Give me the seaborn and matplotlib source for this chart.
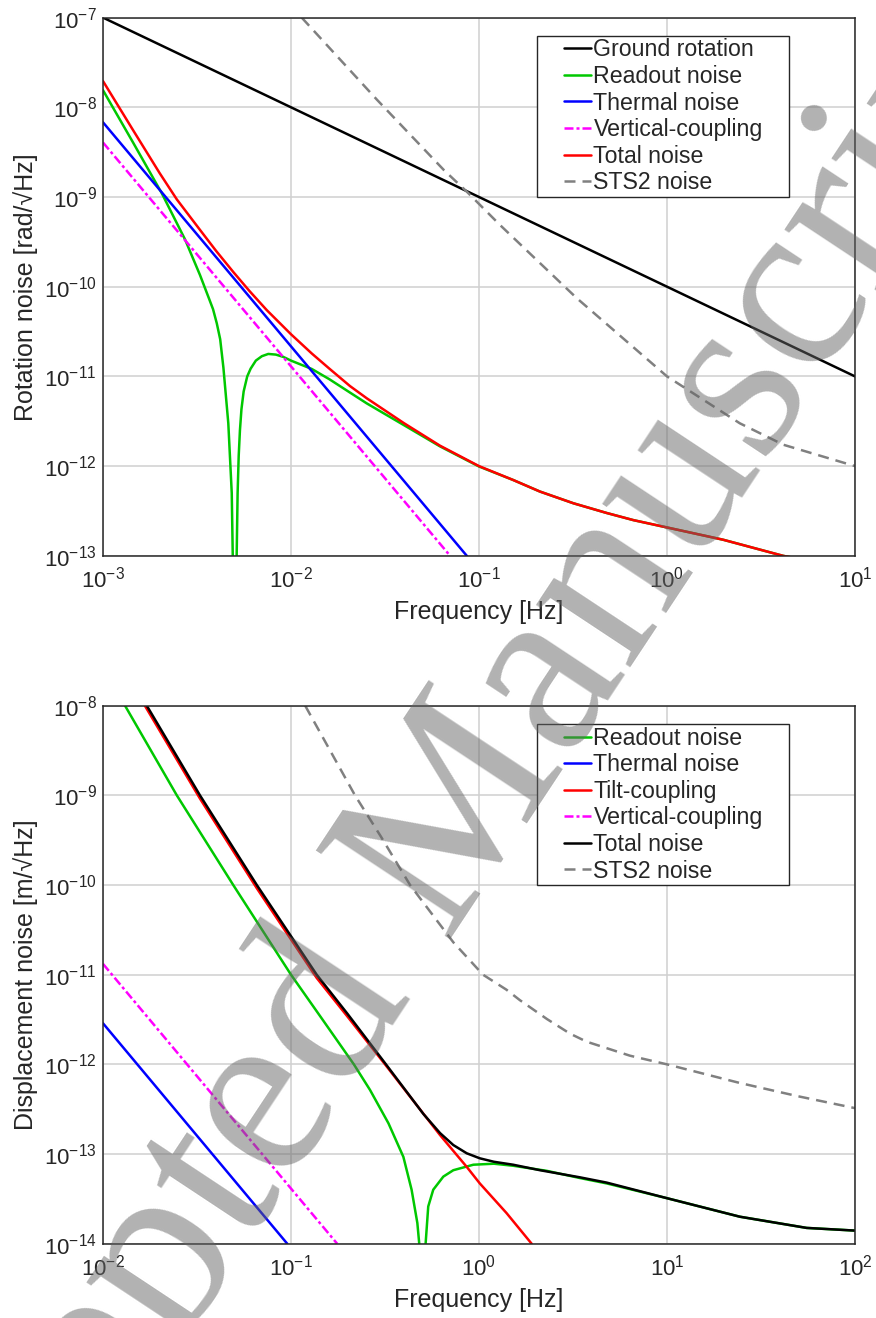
import matplotlib
matplotlib.use("Agg")
import matplotlib.pyplot as plt
from matplotlib.lines import Line2D
from matplotlib.legend_handler import HandlerLine2D
from matplotlib.path import Path
from matplotlib.ticker import FixedLocator, FixedFormatter, NullLocator
import seaborn as sns

# ---------------- data: top panel (rotation noise) ----------------
top_ground_f = [1e-3, 1e1]
top_ground = [1e-7, 1e-11]

top_readout_f = [1.0e-3, 1.45e-3, 2.05e-3, 2.73e-3, 3.28e-3, 3.67e-3, 3.85e-3, 4.03e-3,
                 4.2e-3, 4.37e-3, 4.64e-3, 4.84e-3, 4.9e-3, 5.02e-3, 5.14e-3, 5.2e-3,
                 5.27e-3, 5.35e-3, 5.45e-3, 5.6e-3, 5.85e-3, 6.1e-3, 6.5e-3, 7.0e-3,
                 7.57e-3, 8.3e-3, 9.1e-3, 1.0e-2, 1.29e-2, 1.6e-2, 2.06e-2, 2.53e-2,
                 4.0e-2, 6.2e-2, 0.1, 0.152, 0.211, 0.318, 0.478, 0.662, 1.0, 1.99,
                 4.14, 10.0]
top_readout = [1.55e-8, 4.0e-9, 1.11e-9, 3.37e-10, 1.35e-10, 7.3e-11, 5.6e-11, 3.9e-11,
               2.6e-11, 1.25e-11, 3.0e-12, 5.0e-13, 1.0e-13, 1e-15, 1.0e-13, 5.0e-13,
               1.3e-12, 2.5e-12, 4.3e-12, 6.8e-12, 1.0e-11, 1.22e-11, 1.5e-11, 1.68e-11,
               1.78e-11, 1.75e-11, 1.65e-11, 1.5e-11, 1.21e-11, 9.3e-12, 6.6e-12, 5.0e-12,
               2.85e-12, 1.66e-12, 9.9e-13, 7.0e-13, 5.2e-13, 3.85e-13, 3.0e-13, 2.5e-13,
               2.07e-13, 1.51e-13, 1.0e-13, 7.0e-14]

top_thermal_f = [1e-3, 0.0861]
top_thermal = [6.8e-9, 1.0e-13]

top_vertical_f = [1e-3, 0.0702]
top_vertical = [4.05e-9, 1.0e-13]

top_total_f = [1.0e-3, 1.45e-3, 2.0e-3, 2.47e-3, 3.28e-3, 4.0e-3, 4.93e-3, 6.0e-3, 7.42e-3,
               1.0e-2, 1.29e-2, 1.6e-2, 2.06e-2, 2.53e-2, 4.0e-2, 6.2e-2, 0.1, 0.152,
               0.211, 0.318, 0.478, 0.662, 1.0, 1.99, 4.14, 10.0]
top_total = [1.96e-8, 5.5e-9, 1.85e-9, 9.4e-10, 4.3e-10, 2.5e-10, 1.46e-10, 9.0e-11,
             5.5e-11, 2.95e-11, 1.8e-11, 1.22e-11, 7.8e-12, 5.7e-12, 3.0e-12, 1.69e-12,
             1.0e-12, 7.0e-13, 5.2e-13, 3.85e-13, 3.0e-13, 2.5e-13, 2.07e-13, 1.51e-13,
             1.0e-13, 7.0e-14]

top_sts2_f = [0.0114, 0.0286, 0.065, 0.086, 0.129, 0.33, 1.0, 2.44, 4.16, 10.0]
top_sts2 = [1.0e-7, 1.22e-8, 2.0e-9, 1.15e-9, 4.9e-10, 7.5e-11, 1.0e-11, 3.0e-12,
            1.73e-12, 1.0e-12]

top_labels = ["Ground rotation", "Readout noise", "Thermal noise",
              "Vertical-coupling", "Total noise", "STS2 noise"]

# ---------------- data: bottom panel (displacement noise) ----------------
bot_readout_f = [0.0131, 0.0247, 0.0493, 0.1, 0.145, 0.216, 0.263, 0.330, 0.396, 0.438,
                 0.470, 0.481, 0.5, 0.52, 0.537, 0.571, 0.646, 0.730, 0.933, 1.2, 1.52,
                 2.29, 3.44, 4.78, 10.1, 24.4, 55.3, 100.0]
bot_readout = [1.0e-8, 1.0e-9, 1.0e-10, 1.0e-11, 3.3e-12, 1.0e-12, 5.2e-13, 2.2e-13,
               9.3e-14, 4.0e-14, 1.7e-14, 1.0e-14, 1e-16, 1.0e-14, 2.6e-14, 4.0e-14,
               5.6e-14, 6.6e-14, 7.6e-14, 7.8e-14, 7.4e-14, 6.5e-14, 5.4e-14, 4.7e-14,
               3.2e-14, 2.0e-14, 1.5e-14, 1.4e-14]

bot_thermal_f = [0.01, 0.0955]
bot_thermal = [2.87e-12, 1.0e-14]

bot_tilt_f = [0.0167, 0.0328, 0.0658, 0.137, 0.2, 0.32, 0.42, 0.62, 0.86, 1.01, 1.40, 1.905]
bot_tilt = [1.0e-8, 9.2e-10, 9.2e-11, 9.2e-12, 3.4e-12, 9.7e-13, 4.65e-13, 1.63e-13,
            7.2e-14, 4.7e-14, 2.2e-14, 1.0e-14]

bot_vertical_f = [0.01, 0.176]
bot_vertical = [1.32e-11, 1.0e-14]

bot_total_f = [0.0171, 0.0328, 0.0658, 0.137, 0.2, 0.32, 0.42, 0.506, 0.621, 0.73, 0.86,
               1.01, 1.2, 1.52, 2.11, 3.44, 4.78, 10.1, 24.4, 55.3, 100.0]
bot_total = [1.0e-8, 1.0e-9, 1.0e-10, 1.0e-11, 3.65e-12, 1.0e-12, 4.7e-13, 2.8e-13,
             1.71e-13, 1.26e-13, 1.02e-13, 8.96e-14, 8.2e-14, 7.6e-14, 6.6e-14, 5.5e-14,
             4.8e-14, 3.2e-14, 2.0e-14, 1.5e-14, 1.4e-14]

bot_sts2_f = [0.119, 0.219, 0.30, 0.43, 0.73, 1.05, 1.4, 1.65, 2.3, 3.05, 3.74, 6.35,
              10.0, 24.4, 50.0, 100.0]
bot_sts2 = [1.0e-8, 1.0e-9, 3.5e-10, 1.0e-10, 2.3e-11, 1.0e-11, 6.8e-12, 5.2e-12,
            3.2e-12, 2.2e-12, 1.79e-12, 1.25e-12, 1.0e-12, 6.2e-13, 4.4e-13, 3.25e-13]

bot_labels = ["Readout noise", "Thermal noise", "Tilt-coupling",
              "Vertical-coupling", "Total noise", "STS2 noise"]

top_xticks = [1e-3, 1e-2, 1e-1, 1e0, 1e1]
top_xticklabels = [r"$10^{-3}$", r"$10^{-2}$", r"$10^{-1}$", r"$10^{0}$", r"$10^{1}$"]
top_yticks = [1e-13, 1e-12, 1e-11, 1e-10, 1e-9, 1e-8, 1e-7]
top_yticklabels = [r"$10^{-13}$", r"$10^{-12}$", r"$10^{-11}$", r"$10^{-10}$",
                   r"$10^{-9}$", r"$10^{-8}$", r"$10^{-7}$"]
bot_xticks = [1e-2, 1e-1, 1e0, 1e1, 1e2]
bot_xticklabels = [r"$10^{-2}$", r"$10^{-1}$", r"$10^{0}$", r"$10^{1}$", r"$10^{2}$"]
bot_yticks = [1e-14, 1e-13, 1e-12, 1e-11, 1e-10, 1e-9, 1e-8]
bot_yticklabels = [r"$10^{-14}$", r"$10^{-13}$", r"$10^{-12}$", r"$10^{-11}$",
                   r"$10^{-10}$", r"$10^{-9}$", r"$10^{-8}$"]

# ---------------- styling ----------------
sns.set_style("white")
plt.rcParams["font.family"] = ["Liberation Sans", "DejaVu Sans"]
plt.rcParams["mathtext.fontset"] = "custom"
plt.rcParams["mathtext.rm"] = "Liberation Sans"
plt.rcParams["mathtext.it"] = "Liberation Sans:italic"
plt.rcParams["mathtext.bf"] = "Liberation Sans:bold"
plt.rcParams["mathtext.default"] = "regular"

GREEN = "#00C800"
BLUE = "#0000FF"
RED = "#FF0000"
MAGENTA = "#FF00FF"
BLACK = "#000000"
GRAY = "#808080"
LW = 1.8
DASHDOT = (0, (3.6, 1.2, 1.2, 1.2))
DASHED = (0, (4.4, 2.8))
AXCOL = "#262626"

W, H = 876, 1318
fig = plt.figure(figsize=(W / 100, H / 100), dpi=100)
ax1 = fig.add_axes([103 / W, 1 - 555.8 / H, 752 / W, 538.2 / H])
ax2 = fig.add_axes([103 / W, 1 - 1243.7 / H, 752 / W, 538.0 / H])


def draw(ax, f, v, color, ls, label):
    sns.lineplot(x=f, y=v, ax=ax, color=color, linestyle=ls, linewidth=LW,
                 label=label, estimator=None, errorbar=None, sort=False)


def legend_box(x0, y0, width, height, mutation_size):
    padx = 1.05 * mutation_size
    x0 = x0 - padx
    width = width + 2 * padx
    return Path([(x0, y0), (x0 + width, y0), (x0 + width, y0 + height),
                 (x0, y0 + height), (x0, y0)], closed=True)


def style_axes(ax, xlim, ylim, xt, xtl, yt, ytl, ylabel):
    ax.set_xscale("log")
    ax.set_yscale("log")
    ax.set_xlim(*xlim)
    ax.set_ylim(*ylim)
    ax.xaxis.set_major_locator(FixedLocator(xt))
    ax.xaxis.set_major_formatter(FixedFormatter(xtl))
    ax.yaxis.set_major_locator(FixedLocator(yt))
    ax.yaxis.set_major_formatter(FixedFormatter(ytl))
    ax.xaxis.set_minor_locator(NullLocator())
    ax.yaxis.set_minor_locator(NullLocator())
    ax.grid(True, which="major", color="#D0D0D0", linewidth=1.1)
    ax.set_axisbelow(True)
    ax.tick_params(axis="both", which="both", length=0, labelsize=16, labelcolor=AXCOL)
    ax.tick_params(axis="x", pad=8)
    ax.tick_params(axis="y", pad=4.5)
    for s in ax.spines.values():
        s.set_visible(True)
        s.set_color(AXCOL)
        s.set_linewidth(1.1)
    ax.set_xlabel("Frequency [Hz]", fontsize=18, color=AXCOL, labelpad=5)
    ax.set_ylabel(ylabel, fontsize=18, color=AXCOL, labelpad=4)


def add_legend(ax, anchor):
    handles, labels = ax.get_legend_handles_labels()
    if ax.get_legend() is not None:
        ax.get_legend().remove()
    leg = ax.legend(handles, labels, loc="upper left", bbox_to_anchor=anchor,
                    borderaxespad=0, borderpad=0.1, handlelength=1.16,
                    handletextpad=0.11, labelspacing=0.155, fontsize=16.7,
                    frameon=True, fancybox=False, shadow=False, framealpha=1,
                    edgecolor=AXCOL, handler_map={Line2D: HandlerLine2D()})
    leg.get_frame().set_linewidth(1.0)
    leg.get_frame().set_boxstyle(legend_box)
    return leg


# top panel
draw(ax1, top_ground_f, top_ground, BLACK, "-", top_labels[0])
draw(ax1, top_readout_f, top_readout, GREEN, "-", top_labels[1])
draw(ax1, top_thermal_f, top_thermal, BLUE, "-", top_labels[2])
draw(ax1, top_vertical_f, top_vertical, MAGENTA, DASHDOT, top_labels[3])
draw(ax1, top_total_f, top_total, RED, "-", top_labels[4])
draw(ax1, top_sts2_f, top_sts2, GRAY, DASHED, top_labels[5])
style_axes(ax1, (1e-3, 1e1), (1e-13, 1e-7), top_xticks, top_xticklabels,
           top_yticks, top_yticklabels, "Rotation noise [rad/\u221AHz]")
add_legend(ax1, (0.610, 0.9658))

# bottom panel
draw(ax2, bot_readout_f, bot_readout, GREEN, "-", bot_labels[0])
draw(ax2, bot_thermal_f, bot_thermal, BLUE, "-", bot_labels[1])
draw(ax2, bot_tilt_f, bot_tilt, RED, "-", bot_labels[2])
draw(ax2, bot_vertical_f, bot_vertical, MAGENTA, DASHDOT, bot_labels[3])
draw(ax2, bot_total_f, bot_total, BLACK, "-", bot_labels[4])
draw(ax2, bot_sts2_f, bot_sts2, GRAY, DASHED, bot_labels[5])
style_axes(ax2, (1e-2, 1e2), (1e-14, 1e-8), bot_xticks, bot_xticklabels,
           bot_yticks, bot_yticklabels, "Displacement noise [m/\u221AHz]")
add_legend(ax2, (0.610, 0.9654))

# watermark
fig.text(433 / W, 1 - 858 / H, "Accepted Manuscript", rotation=56.5,
         rotation_mode="anchor", ha="center", va="center", fontsize=177,
         family="Liberation Serif", color=(0.4, 0.4, 0.4), alpha=0.5, zorder=10)

fig.savefig("out.png", dpi=100)
